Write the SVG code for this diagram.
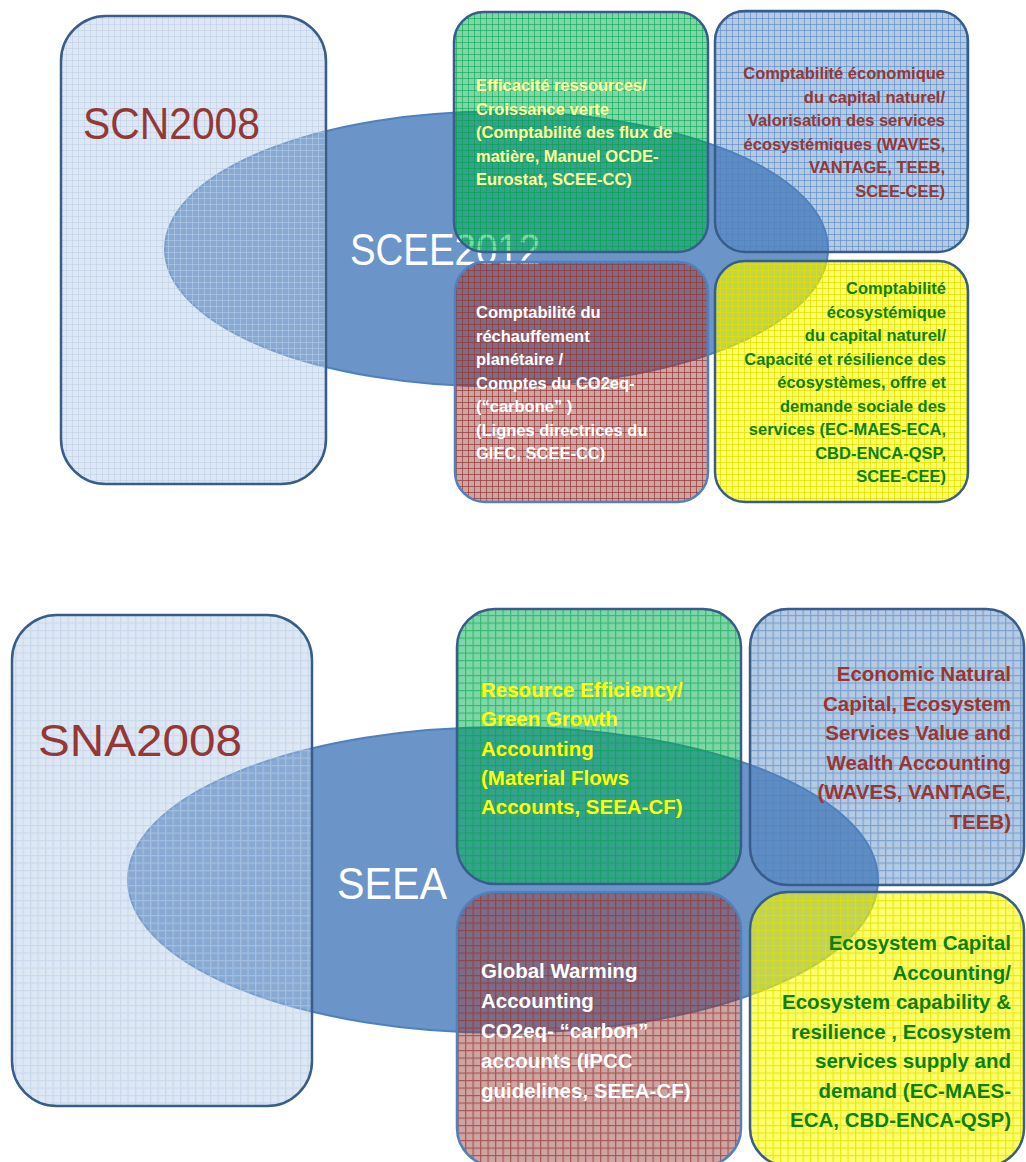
<svg xmlns="http://www.w3.org/2000/svg" width="1026" height="1162" viewBox="0 0 1026 1162">
<style>
text{font-family:"Liberation Sans",Arial,sans-serif}
.big{font-size:44px}
.t{font-size:16.5px;font-weight:bold}
.b{font-size:20.5px;font-weight:bold}
.red{fill:#953735}
.wht{fill:#FFFFFF}
.pyl{fill:#FFFF99}
.yel{fill:#FFFF00}
.grn{fill:#0A820A}
.r{text-anchor:end}
.ell{fill:#4F81BD;fill-opacity:0.84;stroke:#4F81BD;stroke-width:2}
.frame{stroke:#385D8A;stroke-width:2.5}
.frameL{stroke:#4F81BD;stroke-width:2.5}
</style>
<defs>
<pattern id="pL" width="6" height="6" patternUnits="userSpaceOnUse">
<rect width="6" height="6" fill="#B0C6E4" fill-opacity="0.42"/>
<path d="M0 .5H6M.5 0V6" stroke="#B9CDE5" stroke-opacity="0.55" stroke-width="1" fill="none"/>
</pattern>
<pattern id="pG" width="6" height="6" patternUnits="userSpaceOnUse">
<rect width="6" height="6" fill="#00B050" fill-opacity="0.5"/>
<path d="M0 .5H6M.5 0V6" stroke="#00A04A" stroke-opacity="0.55" stroke-width="1" fill="none"/>
</pattern>
<pattern id="pB" width="6" height="6" patternUnits="userSpaceOnUse">
<rect width="6" height="6" fill="#4F81BD" fill-opacity="0.42"/>
<path d="M0 .5H6M.5 0V6" stroke="#4F81BD" stroke-opacity="0.55" stroke-width="1" fill="none"/>
</pattern>
<pattern id="pR" width="6" height="6" patternUnits="userSpaceOnUse">
<rect width="6" height="6" fill="#953735" fill-opacity="0.45"/>
<path d="M0 .5H6M.5 0V6" stroke="#953735" stroke-opacity="0.7" stroke-width="1" fill="none"/>
</pattern>
<pattern id="pY" width="6" height="6" patternUnits="userSpaceOnUse">
<rect width="6" height="6" fill="#FFFF00" fill-opacity="0.58"/>
<path d="M0 .5H6M.5 0V6" stroke="#E0E000" stroke-opacity="0.75" stroke-width="1" fill="none"/>
</pattern>
<pattern id="pL2" href="#pL" patternTransform="scale(1.25)"/>
<pattern id="pG2" href="#pG" patternTransform="scale(1.25)"/>
<pattern id="pB2" href="#pB" patternTransform="scale(1.25)"/>
<pattern id="pR2" href="#pR" patternTransform="scale(1.25)"/>
<pattern id="pY2" href="#pY" patternTransform="scale(1.25)"/>
</defs>

<!-- TOP DIAGRAM -->
<g id="scee2012">
<ellipse class="ell" cx="496.5" cy="249" rx="331.5" ry="137.5"/>
<text class="big wht" x="350" y="265" textLength="190" lengthAdjust="spacingAndGlyphs">SCEE2012</text>
</g>
<g id="scn2008">
<rect class="frame" x="61" y="16" width="265" height="468" rx="45" fill="url(#pL)"/>
<text class="big red" x="83" y="139" font-size="43" textLength="177" lengthAdjust="spacingAndGlyphs">SCN2008</text>
</g>
<g id="fr-efficacite">
<rect class="frame" x="454" y="12" width="254" height="240" rx="30" fill="url(#pG)"/>
<text class="t pyl" x="476" y="91">Efficacité ressources/</text>
<text class="t pyl" x="476" y="114.6">Croissance verte</text>
<text class="t pyl" x="476" y="138.2">(Comptabilité des flux de</text>
<text class="t pyl" x="476" y="161.8">matière, Manuel OCDE-</text>
<text class="t pyl" x="476" y="185.4">Eurostat, SCEE-CC)</text>
</g>
<g id="fr-economique">
<rect class="frame" x="715" y="11" width="253" height="241" rx="30" fill="url(#pB)"/>
<text class="t red r" x="945" y="79">Comptabilité  économique</text>
<text class="t red r" x="945" y="102.6">du capital naturel/</text>
<text class="t red r" x="945" y="126.2">Valorisation  des services</text>
<text class="t red r" x="945" y="149.8">écosystémiques (WAVES,</text>
<text class="t red r" x="945" y="173.4">VANTAGE, TEEB,</text>
<text class="t red r" x="945" y="197">SCEE-CEE)</text>
</g>
<g id="fr-rechauffement">
<rect class="frameL" x="455" y="262" width="253" height="240" rx="30" fill="url(#pR)"/>
<text class="t wht" x="476" y="318">Comptabilité du</text>
<text class="t wht" x="476" y="341.5">réchauffement</text>
<text class="t wht" x="476" y="365">planétaire /</text>
<text class="t wht" x="476" y="388.5">Comptes du CO2eq-</text>
<text class="t wht" x="476" y="412">(“carbone” )</text>
<text class="t wht" x="476" y="435.5">(Lignes directrices du</text>
<text class="t wht" x="476" y="459">GIEC,  SCEE-CC)</text>
</g>
<g id="fr-ecosystemique">
<rect class="frame" x="715" y="261" width="253" height="241" rx="30" fill="url(#pY)"/>
<text class="t grn r" x="946" y="294">Comptabilité</text>
<text class="t grn r" x="946" y="317.5">écosystémique</text>
<text class="t grn r" x="946" y="341">du capital naturel/</text>
<text class="t grn r" x="946" y="364.5">Capacité et résilience des</text>
<text class="t grn r" x="946" y="388">écosystèmes, offre et</text>
<text class="t grn r" x="946" y="411.5">demande  sociale  des</text>
<text class="t grn r" x="946" y="435">services (EC-MAES-ECA,</text>
<text class="t grn r" x="946" y="458.5">CBD-ENCA-QSP,</text>
<text class="t grn r" x="946" y="482">SCEE-CEE)</text>
</g>

<!-- BOTTOM DIAGRAM -->
<g id="seea">
<ellipse class="ell" cx="503" cy="880" rx="375" ry="153"/>
<text class="big wht" x="337" y="899" font-size="48" textLength="110" lengthAdjust="spacingAndGlyphs">SEEA</text>
</g>
<g id="sna2008">
<rect class="frame" x="12" y="615" width="300" height="491" rx="45" fill="url(#pL2)"/>
<text class="big red" x="38" y="756" font-size="48" textLength="204" lengthAdjust="spacingAndGlyphs">SNA2008</text>
</g>
<g id="resource-efficiency">
<rect class="frame" x="457" y="609" width="284" height="275" rx="38" fill="url(#pG2)"/>
<text class="b yel" x="481" y="697">Resource Efficiency/</text>
<text class="b yel" x="481" y="726.3">Green Growth</text>
<text class="b yel" x="481" y="755.6">Accounting</text>
<text class="b yel" x="481" y="784.9">(Material Flows</text>
<text class="b yel" x="481" y="814.2">Accounts, SEEA-CF)</text>
</g>
<g id="economic-natural-capital">
<rect class="frame" x="750" y="609" width="274" height="276" rx="38" fill="url(#pB2)"/>
<text class="b red r" x="1011" y="681">Economic Natural</text>
<text class="b red r" x="1011" y="710.5">Capital, Ecosystem</text>
<text class="b red r" x="1011" y="740">Services Value and</text>
<text class="b red r" x="1011" y="769.5">Wealth Accounting</text>
<text class="b red r" x="1011" y="799">(WAVES, VANTAGE,</text>
<text class="b red r" x="1011" y="828.5">TEEB)</text>
</g>
<g id="global-warming">
<rect class="frameL" x="457" y="892" width="284" height="274" rx="38" fill="url(#pR2)"/>
<text class="b wht" x="481" y="978">Global Warming</text>
<text class="b wht" x="481" y="1008">Accounting</text>
<text class="b wht" x="481" y="1038">CO2eq- “carbon”</text>
<text class="b wht" x="481" y="1068">accounts (IPCC</text>
<text class="b wht" x="481" y="1098">guidelines, SEEA-CF)</text>
</g>
<g id="ecosystem-capital">
<rect class="frame" x="750" y="892" width="274" height="274" rx="38" fill="url(#pY2)"/>
<text class="b grn r" x="1011" y="950">Ecosystem Capital</text>
<text class="b grn r" x="1011" y="979.5">Accounting/</text>
<text class="b grn r" x="1011" y="1009">Ecosystem capability &amp;</text>
<text class="b grn r" x="1011" y="1038.5">resilience , Ecosystem</text>
<text class="b grn r" x="1011" y="1068">services supply and</text>
<text class="b grn r" x="1011" y="1097.5">demand (EC-MAES-</text>
<text class="b grn r" x="1011" y="1127">ECA, CBD-ENCA-QSP)</text>
</g>
<g id="connectors"/>
</svg>
